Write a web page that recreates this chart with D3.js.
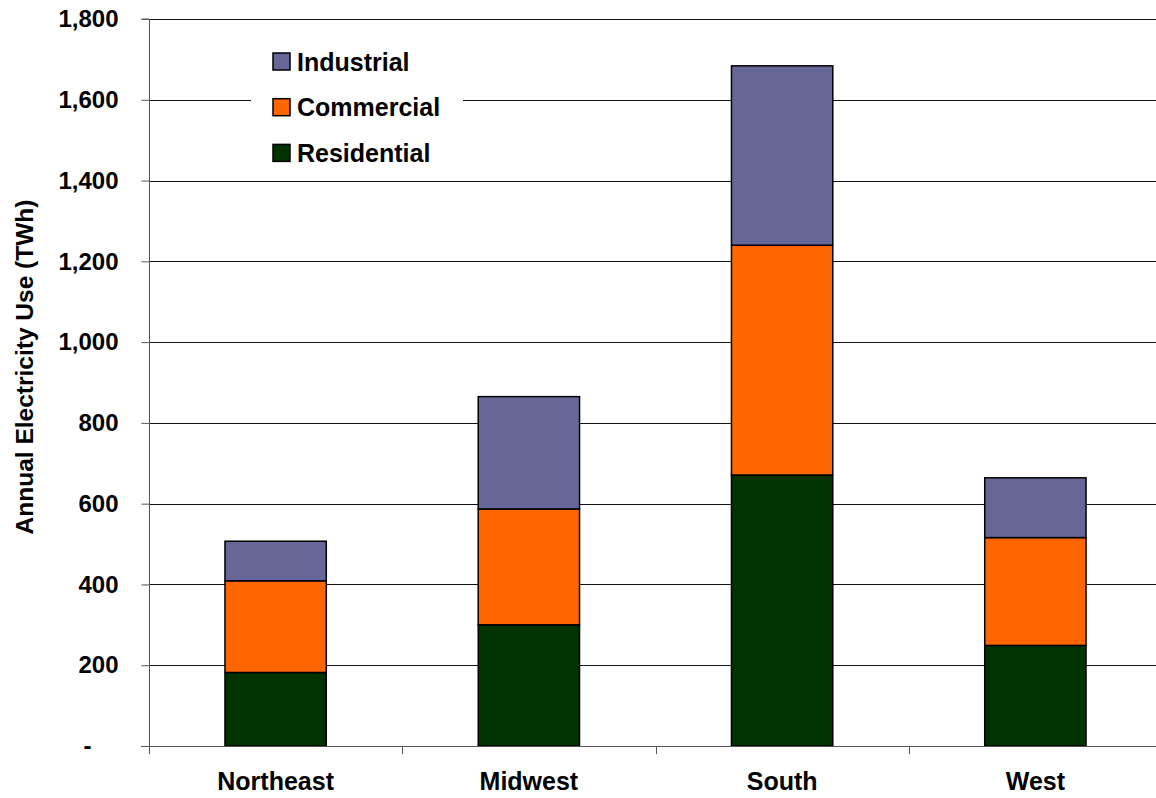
<!DOCTYPE html>
<html>
<head>
<meta charset="utf-8">
<script src="https://cdn.jsdelivr.net/npm/d3@7"></script>
<style>
  html, body { margin: 0; padding: 0; background: #fff; }
  svg { display: block; font-family: "Liberation Sans", Arial, sans-serif; font-weight: bold; }
</style>
</head>
<body>
<svg id="chart" width="1156" height="798"></svg>
<script>
const categories = ["Northeast", "Midwest", "South", "West"];
const seriesNames = ["Residential", "Commercial", "Industrial"];
const residential = [182, 300, 671, 249];
const commercial = [227, 287, 569, 267];
const industrial = [98, 278, 444, 148];
const yTicks = [0, 200, 400, 600, 800, 1000, 1200, 1400, 1600, 1800];
const legendOrder = ["Industrial", "Commercial", "Residential"];

const colors = { Residential: "#003300", Commercial: "#FF6600", Industrial: "#666699" };

const svg = d3.select("#chart");
const mLeft = 149, mRight = 1162, mTop = 19, mBottom = 746;

const rows = categories.map((c, i) => ({
  category: c, Residential: residential[i], Commercial: commercial[i], Industrial: industrial[i]
}));
const stacked = d3.stack().keys(seriesNames)(rows);

const y = d3.scaleLinear().domain([0, 1800]).range([mBottom, mTop]);
const xCat = d3.scaleBand().domain(categories).range([mLeft, mRight]).padding(0);
const xBar = d3.scaleBand().domain(categories).range([mLeft, mRight]).paddingInner(0.6).paddingOuter(0.3);

// gridlines
svg.append("g").selectAll("line").data(yTicks.filter(d => d > 0)).join("line")
  .attr("x1", mLeft).attr("x2", 1156)
  .attr("y1", d => Math.round(y(d)) + 0.5).attr("y2", d => Math.round(y(d)) + 0.5)
  .attr("stroke", "#111").attr("stroke-width", 1);

// legend background (covers gridlines)
svg.append("rect").attr("x", 251).attr("y", 36).attr("width", 212).attr("height", 136).attr("fill", "#fff");

// bars
svg.append("g").selectAll("g").data(stacked).join("g")
  .attr("fill", d => colors[d.key])
  .selectAll("rect").data(d => d).join("rect")
  .attr("x", d => xBar(d.data.category))
  .attr("width", xBar.bandwidth())
  .attr("y", d => y(d[1]))
  .attr("height", d => y(d[0]) - y(d[1]))
  .attr("stroke", "#000").attr("stroke-width", 1.5);

// y axis
const yAxis = d3.axisLeft(y).tickValues(yTicks).tickSize(8).tickPadding(23)
  .tickFormat(d => d === 0 ? "-" : d3.format(",")(d));
const gy = svg.append("g").attr("transform", `translate(${mLeft + 0.5},0)`).call(yAxis);
gy.select(".domain").attr("stroke", "#555").attr("d", `M-8,${mTop}H0V${mBottom + 8}`);
gy.selectAll(".tick line").attr("stroke", "#555");
gy.selectAll(".tick text").attr("font-size", 24).attr("font-family", "Liberation Sans, Arial, sans-serif")
  .attr("font-weight", "bold").attr("fill", "#000");
gy.selectAll(".tick").filter(d => d === 0).select("text").attr("dx", -27);

// x axis
const xAxis = d3.axisBottom(xCat).tickSize(0).tickPadding(26);
const gx = svg.append("g").attr("transform", `translate(0,${mBottom + 0.5})`).call(xAxis);
gx.select(".domain").attr("stroke", "#555").attr("d", `M${mLeft - 8},0H1156`);
gx.selectAll(".tick text").attr("font-size", 25).attr("font-family", "Liberation Sans, Arial, sans-serif")
  .attr("font-weight", "bold").attr("fill", "#000");
// category boundary ticks
svg.append("g").selectAll("line").data(categories).join("line")
  .attr("x1", d => Math.round(xCat(d)) + 0.5).attr("x2", d => Math.round(xCat(d)) + 0.5)
  .attr("y1", mBottom).attr("y2", mBottom + 8)
  .attr("stroke", "#555");

// y title
svg.append("text")
  .attr("transform", `translate(33,367) rotate(-90)`)
  .attr("text-anchor", "middle")
  .attr("font-family", "Liberation Sans, Arial, sans-serif")
  .attr("font-weight", "bold")
  .attr("font-size", 24.5)
  .attr("fill", "#000")
  .text("Annual Electricity Use (TWh)");

// legend
const lg = svg.append("g").selectAll("g").data(legendOrder).join("g")
  .attr("transform", (d, i) => `translate(273,${53 + i * 45.7})`);
lg.append("rect").attr("width", 17).attr("height", 17)
  .attr("fill", d => colors[d]).attr("stroke", "#000").attr("stroke-width", 1.5);
lg.append("text").attr("x", 24).attr("y", 17.5).attr("font-size", 25)
  .attr("font-family", "Liberation Sans, Arial, sans-serif").attr("font-weight", "bold").text(d => d);
</script>
</body>
</html>
